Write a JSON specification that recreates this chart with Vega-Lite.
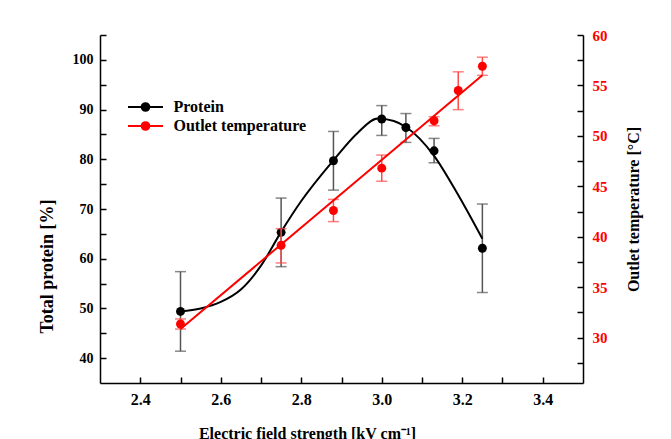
{
  "$schema": "https://vega.github.io/schema/vega-lite/v6.json",
  "width": 483,
  "height": 348,
  "autosize": "none",
  "padding": {"left": 100, "top": 35, "right": 88, "bottom": 56},
  "background": "white",
  "config": {
    "view": {"stroke": null},
    "font": "Liberation Serif",
    "axis": {
      "grid": false,
      "domainColor": "black",
      "domainWidth": 1.5,
      "tickColor": "black",
      "tickWidth": 1.5,
      "tickSize": -6,
      "labelFont": "Liberation Serif",
      "labelFontWeight": "bold",
      "titleFont": "Liberation Serif",
      "titleFontWeight": "bold",
      "titleFontSize": 16,
      "titleColor": "black",
      "labelColor": "black"
    }
  },
  "datasets": {
    "protein": [
      {"E": 2.5, "v": 49.4, "lo": 41.4, "hi": 57.4},
      {"E": 2.75, "v": 65.3, "lo": 58.4, "hi": 72.2},
      {"E": 2.88, "v": 79.7, "lo": 73.8, "hi": 85.6},
      {"E": 3.0, "v": 88.1, "lo": 84.8, "hi": 90.8},
      {"E": 3.06, "v": 86.4, "lo": 83.4, "hi": 89.2},
      {"E": 3.13, "v": 81.7, "lo": 79.3, "hi": 84.2},
      {"E": 3.25, "v": 62.1, "lo": 53.2, "hi": 71.0}
    ],
    "protein_curve": [
      {"E": 2.5, "v": 49.4, "series": "Protein"},
      {"E": 2.55, "v": 50.0, "series": "Protein"},
      {"E": 2.6, "v": 51.3, "series": "Protein"},
      {"E": 2.65, "v": 53.8, "series": "Protein"},
      {"E": 2.7, "v": 58.6, "series": "Protein"},
      {"E": 2.75, "v": 65.4, "series": "Protein"},
      {"E": 2.8, "v": 71.6, "series": "Protein"},
      {"E": 2.88, "v": 79.8, "series": "Protein"},
      {"E": 2.94, "v": 85.3, "series": "Protein"},
      {"E": 2.99, "v": 88.2, "series": "Protein"},
      {"E": 3.03, "v": 87.7, "series": "Protein"},
      {"E": 3.06, "v": 86.5, "series": "Protein"},
      {"E": 3.13, "v": 80.7, "series": "Protein"},
      {"E": 3.19, "v": 72.8, "series": "Protein"},
      {"E": 3.25, "v": 64.0, "series": "Protein"}
    ],
    "temp": [
      {"E": 2.5, "v": 31.35, "lo": 30.85, "hi": 31.85},
      {"E": 2.75, "v": 39.15, "lo": 37.4, "hi": 40.8},
      {"E": 2.88, "v": 42.6, "lo": 41.5, "hi": 43.7},
      {"E": 3.0, "v": 46.8, "lo": 45.5, "hi": 48.1},
      {"E": 3.13, "v": 51.5, "lo": 51.0, "hi": 51.9},
      {"E": 3.19, "v": 54.5, "lo": 52.6, "hi": 56.35},
      {"E": 3.25, "v": 56.9, "lo": 56.0, "hi": 57.8}
    ],
    "temp_line": [
      {"E": 2.5, "v": 30.85, "series": "Outlet temperature"},
      {"E": 3.25, "v": 56.0, "series": "Outlet temperature"}
    ]
  },
  "encoding": {
    "x": {
      "field": "E",
      "type": "quantitative",
      "scale": {"domain": [2.3, 3.5], "nice": false, "zero": false},
      "axis": {
        "title": "Electric field strength [kV cm⁻¹]",
        "values": [2.4, 2.5, 2.6, 2.7, 2.8, 2.9, 3.0, 3.1, 3.2, 3.3, 3.4],
        "labelExpr": "round(datum.value * 10) % 2 == 0 ? format(datum.value, '.1f') : ''",
        "labelFontSize": 16,
        "labelPadding": 14,
        "titleX": 207,
        "titleY": 55,
        "titleAlign": "center",
        "titleBaseline": "alphabetic"
      }
    }
  },
  "layer": [
    {
      "layer": [
        {
          "data": {"name": "protein"},
          "mark": {"type": "errorbar", "ticks": true, "size": 11, "thickness": 1.5, "color": "#555555"},
          "encoding": {
            "y": {
              "field": "lo",
              "type": "quantitative",
              "scale": {"domain": [35, 105], "nice": false, "zero": false},
              "axis": {
                "title": "Total protein [%]",
                "values": [40, 45, 50, 55, 60, 65, 70, 75, 80, 85, 90, 95, 100, 105],
                "labelExpr": "datum.value % 10 == 0 && datum.value <= 100 ? datum.value : ''",
                "labelFontSize": 14,
                "labelPadding": 13,
                "titleFontSize": 18,
                "titleX": -53,
                "titleY": 231,
                "titleAngle": -90,
                "titleAlign": "center",
                "titleBaseline": "middle"
              }
            },
            "y2": {"field": "hi"}
          }
        },
        {
          "data": {"name": "protein_curve"},
          "mark": {"type": "line", "interpolate": "monotone", "strokeWidth": 2},
          "encoding": {
            "y": {
              "field": "v",
              "type": "quantitative",
              "axis": {
                "title": "Total protein [%]",
                "values": [40, 45, 50, 55, 60, 65, 70, 75, 80, 85, 90, 95, 100, 105],
                "labelExpr": "datum.value % 10 == 0 && datum.value <= 100 ? datum.value : ''",
                "labelFontSize": 14,
                "labelPadding": 13,
                "titleFontSize": 18,
                "titleX": -53,
                "titleY": 231,
                "titleAngle": -90,
                "titleAlign": "center",
                "titleBaseline": "middle"
              }
            },
            "color": {
              "field": "series",
              "type": "nominal",
              "scale": {"domain": ["Protein", "Outlet temperature"], "range": ["black", "red"]},
              "legend": {
                "orient": "none",
                "legendX": 34.5,
                "legendY": 61,
                "title": null,
                "padding": 0,
                "symbolType": "M-1.75,0L1.75,0M-0.385,0A0.385,0.385,0,1,0,0.385,0A0.385,0.385,0,1,0,-0.385,0Z",
                "symbolSize": 400,
                "symbolStrokeWidth": 2,
                "labelFont": "Liberation Serif",
                "labelFontSize": 16,
                "labelFontWeight": "bold",
                "labelColor": "black",
                "labelOffset": 17,
                "rowPadding": 0,
                "encode": {
                  "symbols": {
                    "update": {
                      "fill": {"scale": "color", "field": "value"},
                      "stroke": {"scale": "color", "field": "value"},
                      "opacity": {"value": 1}
                    }
                  }
                }
              }
            }
          }
        },
        {
          "data": {"name": "protein"},
          "mark": {"type": "point", "filled": true, "size": 80, "color": "black", "opacity": 1},
          "encoding": {
            "y": {
              "field": "v",
              "type": "quantitative",
              "axis": {
                "title": "Total protein [%]",
                "values": [40, 45, 50, 55, 60, 65, 70, 75, 80, 85, 90, 95, 100, 105],
                "labelExpr": "datum.value % 10 == 0 && datum.value <= 100 ? datum.value : ''",
                "labelFontSize": 14,
                "labelPadding": 13,
                "titleFontSize": 18,
                "titleX": -53,
                "titleY": 231,
                "titleAngle": -90,
                "titleAlign": "center",
                "titleBaseline": "middle"
              }
            }
          }
        }
      ]
    },
    {
      "layer": [
        {
          "data": {"name": "temp"},
          "mark": {"type": "errorbar", "ticks": true, "size": 11, "thickness": 1.5, "color": "#ff4a4a"},
          "encoding": {
            "y": {
              "field": "lo",
              "type": "quantitative",
              "scale": {"domain": [25.5, 60], "nice": false, "zero": false},
              "axis": {
                "orient": "right",
                "title": "Outlet temperature [°C]",
                "values": [27.5, 30, 32.5, 35, 37.5, 40, 42.5, 45, 47.5, 50, 52.5, 55, 57.5, 60],
                "labelExpr": "datum.value % 5 == 0 ? datum.value : ''",
                "labelFontSize": 15,
                "labelColor": "red",
                "labelPadding": 15,
                "titleX": 50,
                "titleY": 174,
                "titleAngle": -90,
                "titleAlign": "center",
                "titleBaseline": "middle"
              }
            },
            "y2": {"field": "hi"}
          }
        },
        {
          "data": {"name": "temp_line"},
          "mark": {"type": "line", "strokeWidth": 2},
          "encoding": {
            "y": {
              "field": "v",
              "type": "quantitative",
              "axis": {
                "orient": "right",
                "title": "Outlet temperature [°C]",
                "values": [27.5, 30, 32.5, 35, 37.5, 40, 42.5, 45, 47.5, 50, 52.5, 55, 57.5, 60],
                "labelExpr": "datum.value % 5 == 0 ? datum.value : ''",
                "labelFontSize": 15,
                "labelColor": "red",
                "labelPadding": 15,
                "titleX": 50,
                "titleY": 174,
                "titleAngle": -90,
                "titleAlign": "center",
                "titleBaseline": "middle"
              }
            },
            "color": {"field": "series", "type": "nominal"}
          }
        },
        {
          "data": {"name": "temp"},
          "mark": {"type": "point", "filled": true, "size": 80, "color": "red", "opacity": 1},
          "encoding": {
            "y": {
              "field": "v",
              "type": "quantitative",
              "axis": {
                "orient": "right",
                "title": "Outlet temperature [°C]",
                "values": [27.5, 30, 32.5, 35, 37.5, 40, 42.5, 45, 47.5, 50, 52.5, 55, 57.5, 60],
                "labelExpr": "datum.value % 5 == 0 ? datum.value : ''",
                "labelFontSize": 15,
                "labelColor": "red",
                "labelPadding": 15,
                "titleX": 50,
                "titleY": 174,
                "titleAngle": -90,
                "titleAlign": "center",
                "titleBaseline": "middle"
              }
            }
          }
        }
      ]
    }
  ],
  "resolve": {"scale": {"y": "independent"}}
}
